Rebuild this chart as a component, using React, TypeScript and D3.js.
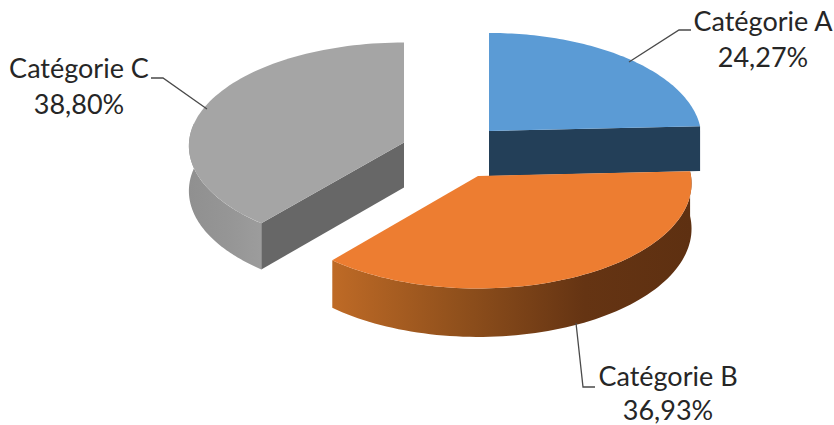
import React from "react";
import * as d3 from "d3";

const categories = ["Catégorie A", "Catégorie B", "Catégorie C"];
const shares = [24.27, 36.93, 38.8];
const shareLabels = ["24,27%", "36,93%", "38,80%"];

const topColors = ["#5B9BD5", "#ED7D31", "#A5A5A5"];
const cutColors = ["#233F58", "#6A3613", "#676767"];

// Per-slice projection: exploded apex, page radii and foreshortening towards the back.
const apexes: [number, number][] = [[489, 131], [478, 176], [404, 142.5]];
const radiiX = [212, 213, 215];
const radiiY = [105, 104.5, 103.3];
const perspective = [0.071, 0.071, 0.033];
const DEPTH = 45;

type Pt = [number, number];

// Projects a pie angle (clockwise from 12 o'clock) to the top plane, optionally lowered to the base.
function rimPoint(i: number, angle: number, lowered = false): Pt {
  const apex = apexes[i];
  const depthY = Math.cos(angle);
  const w = 1 + perspective[i] * depthY;
  const x = apex[0] + (radiiX[i] * Math.sin(angle)) / w;
  const y = apex[1] - (radiiY[i] * depthY) / w;
  return [x, lowered ? y + DEPTH / w : y];
}

function sweep(from: number, to: number, steps = 80): number[] {
  return d3.range(steps + 1).map((i) => from + ((to - from) * i) / steps);
}

const line = d3.line<Pt>().x((d) => d[0]).y((d) => d[1]);

const pieLayout = d3.pie<number>().sort(null).value((d) => d);
const arcs = pieLayout(shares);

function topFace(i: number): string {
  const pts = sweep(arcs[i].startAngle, arcs[i].endAngle).map((t) => rimPoint(i, t));
  return line([apexes[i], ...pts])! + "Z";
}

// Curved outer wall between two angles.
function wall(i: number, from: number, to: number): string {
  const upper = sweep(from, to).map((t) => rimPoint(i, t));
  const lower = sweep(to, from).map((t) => rimPoint(i, t, true));
  return line([...upper, ...lower])! + "Z";
}

// Flat cut wall running from the apex out to the rim at one angle.
function cutWall(i: number, angle: number): string {
  const a = apexes[i];
  return line([a, rimPoint(i, angle), rimPoint(i, angle, true), [a[0], a[1] + DEPTH]])! + "Z";
}

const leaders: Pt[][] = [
  [[629, 62], [679, 30], [691, 30]],
  [[576, 323], [583, 387], [595, 387]],
  [[207, 109], [163, 78], [151, 78]],
];

const labelSpots: { x: number; y: number; gap: number }[] = [
  { x: 763, y: 31, gap: 35.5 },
  { x: 668, y: 386, gap: 34 },
  { x: 79, y: 78, gap: 35.5 },
];

export default function App() {
  return (
    <svg
      width={834}
      height={425}
      viewBox="0 0 834 425"
      style={{ position: "absolute", left: 0, top: 0, display: "block", background: "#fff" }}
    >
      <defs>
        <linearGradient id="rimB" gradientUnits="userSpaceOnUse" x1={333} x2={692} y1={0} y2={0}>
          <stop offset="0" stopColor="#BE6A26" />
          <stop offset="0.35" stopColor="#90501C" />
          <stop offset="0.7" stopColor="#653413" />
          <stop offset="1" stopColor="#5E3011" />
        </linearGradient>
        <linearGradient id="rimC" gradientUnits="userSpaceOnUse" x1={190} x2={260} y1={0} y2={0}>
          <stop offset="0" stopColor="#909090" />
          <stop offset="0.6" stopColor="#969696" />
          <stop offset="1" stopColor="#9C9C9C" />
        </linearGradient>
      </defs>

      {/* Grey slice: outer wall, cut wall, top */}
      <path d={wall(2, arcs[2].startAngle, Math.PI * 1.56)} fill="url(#rimC)" />
      <path d={cutWall(2, arcs[2].startAngle)} fill={cutColors[2]} />
      <path d={topFace(2)} fill={topColors[2]} />

      {/* Blue slice */}
      <path d={cutWall(0, arcs[0].endAngle)} fill={cutColors[0]} />
      <path d={topFace(0)} fill={topColors[0]} />

      {/* Orange slice sits in front of the other two */}
      <path d={wall(1, arcs[1].startAngle, arcs[1].endAngle)} fill="url(#rimB)" />
      <path d={topFace(1)} fill={topColors[1]} />

      {leaders.map((pts, i) => (
        <path key={i} d={line(pts)!} fill="none" stroke="#4A4A4A" strokeWidth={1.3} />
      ))}

      {categories.map((name, i) => (
        <text
          key={name}
          x={labelSpots[i].x}
          y={labelSpots[i].y}
          textAnchor="middle"
          fontFamily="Lato, 'Open Sans', sans-serif"
          fontSize={27}
          fill="#262626"
        >
          <tspan x={labelSpots[i].x}>{name}</tspan>
          <tspan x={labelSpots[i].x} dy={labelSpots[i].gap}>{shareLabels[i]}</tspan>
        </text>
      ))}
    </svg>
  );
}
